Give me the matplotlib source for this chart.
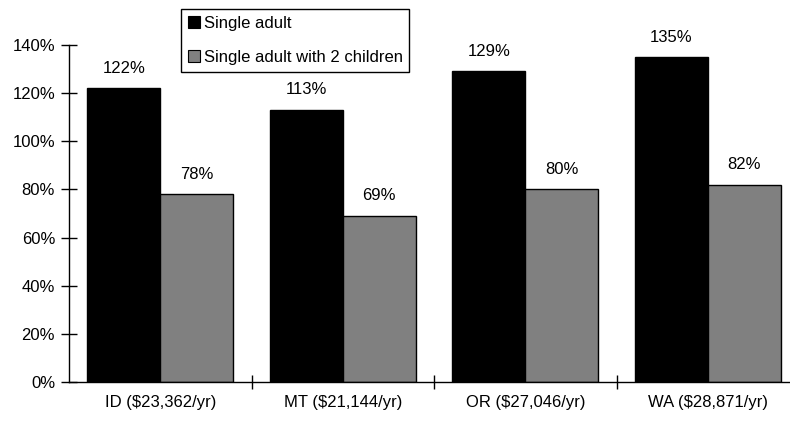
import numpy as np
import matplotlib
matplotlib.use('Agg')
import matplotlib.pyplot as plt
from matplotlib.patches import Patch
from matplotlib.ticker import FixedLocator

plt.rcParams['font.family'] = ['Liberation Sans', 'DejaVu Sans']

#data
states = ['ID ($23,362/yr)', 'MT ($21,144/yr)', 'OR ($27,046/yr)', 'WA ($28,871/yr)']
single = [122, 113, 129, 135]
single_kids = [78, 69, 80, 82]
yticks = [0, 20, 40, 60, 80, 100, 120, 140]
series_names = ['Single adult', 'Single adult with 2 children']
colors = ['#000000', '#808080']

fs = 12
fig = plt.figure(figsize=(7.9, 4.22), dpi=100)
ax = fig.add_axes([69/790, 1-382/422, 730/790, 337/422])

x = np.arange(len(states))
w = 0.4
b1 = ax.bar(x - w/2, single, w, color=colors[0], edgecolor='k', linewidth=1)
b2 = ax.bar(x + w/2, single_kids, w, color=colors[1], edgecolor='k', linewidth=1)
for bars, vals in ((b1, single), (b2, single_kids)):
    for r, v in zip(bars, vals):
        ax.annotate(f'{v}%', (r.get_x() + r.get_width()/2, v), xytext=(0, 9),
                    textcoords='offset points', ha='center', va='bottom', fontsize=fs)

ax.set_xlim(-0.5, len(states) - 0.5)
ax.set_ylim(0, 140)
ax.set_yticks(yticks)
ax.set_yticklabels([f'{t}%' for t in yticks], fontsize=fs)
ax.set_xticks(x)
ax.set_xticklabels(states, fontsize=fs)
ax.xaxis.set_minor_locator(FixedLocator(x[1:] - 0.5))
ax.tick_params(axis='x', which='major', length=0, pad=9)
ax.tick_params(axis='x', which='minor', direction='inout', length=10, width=1)
ax.tick_params(axis='y', direction='inout', length=12, width=1, pad=4)
for s in ['top', 'right']:
    ax.spines[s].set_visible(False)
for s in ['left', 'bottom']:
    ax.spines[s].set_linewidth(1)
ax.spines['bottom'].set_zorder(5)

handles = [Patch(facecolor=c, edgecolor='k', linewidth=0.8) for c in colors]
leg = fig.legend(handles, series_names, loc='upper left', bbox_to_anchor=(181/790, 1-9/422),
                 fontsize=fs, frameon=True, fancybox=False, edgecolor='k', framealpha=1,
                 handlelength=0.75, handleheight=0.75, handletextpad=0.2, borderpad=0.4,
                 labelspacing=1.15, borderaxespad=0)
leg.get_frame().set_linewidth(1)

fig.savefig('out.png', dpi=100)
